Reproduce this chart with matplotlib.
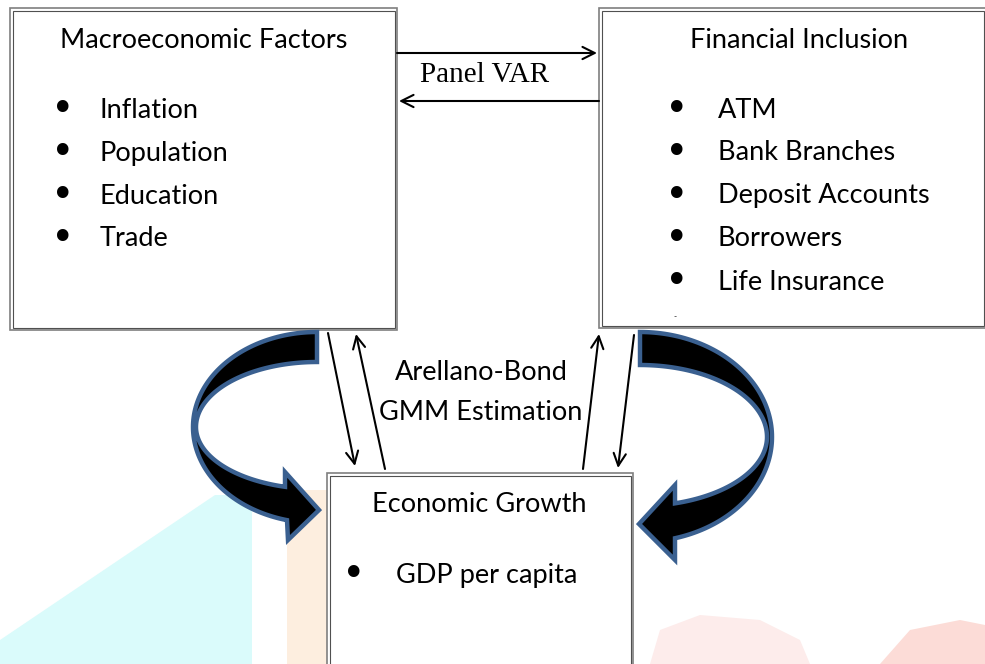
import numpy as np
import matplotlib
matplotlib.use('Agg')
import matplotlib.pyplot as plt
from matplotlib.patches import Rectangle, Polygon

# diagram texts
macroTitle = 'Macroeconomic Factors'
macroItems = ['Inflation', 'Population', 'Education', 'Trade']
finTitle = 'Financial Inclusion'
finItems = ['ATM', 'Bank Branches', 'Deposit Accounts', 'Borrowers', 'Life Insurance']
growthTitle = 'Economic Growth'
growthItems = ['GDP per capita']
varLabel = 'Panel VAR'
gmmLabel = ['Arellano-Bond', 'GMM Estimation']

W, H = 985, 664
sans = 'Lato'
fs = 19.5

fig = plt.figure(figsize=(W/100, H/100), dpi=100)
ax = fig.add_axes([0, 0, 1, 1])
ax.set_xlim(0, W)
ax.set_ylim(H, 0)
ax.axis('off')

# faint watermark in the background
ax.add_patch(Polygon([(0, 640), (215, 495), (252, 495), (252, H), (0, H)],
                     closed=True, fc='#dafbfb', ec='none', zorder=0))
ax.add_patch(Rectangle((287, 490), 40, H-490, fc='#fdeedf', ec='none', zorder=0))
ax.add_patch(Polygon([(650, 664), (660, 630), (700, 615), (760, 620), (800, 640), (810, 664)],
                     closed=True, fc='#fdeceb', ec='none', zorder=0))
ax.add_patch(Polygon([(880, 664), (910, 630), (960, 620), (985, 625), (985, 664)],
                     closed=True, fc='#fcdcd7', ec='none', zorder=0))

def box(x0, y0, x1, y1):
  ax.add_patch(Rectangle((x0, y0), x1-x0, y1-y0, fc='white', ec='#7f7f7f', lw=1.2, zorder=2))
  ax.add_patch(Rectangle((x0+2.5, y0+2.5), x1-x0-5, y1-y0-5, fc='none', ec='#505050', lw=0.8, zorder=3))

box(10, 8, 397, 330)
box(599, 8, 986, 328)
box(327, 473, 633, 680)

def block(title, items, tx, ty, bx, ix, y0, dy):
  ax.text(tx, ty, title, ha='center', va='center', fontsize=fs, family=sans, zorder=4)
  for i, it in enumerate(items):
    y = y0 + i*dy
    ax.text(bx, y, '\u2022', ha='center', va='center', fontsize=fs+9, family='DejaVu Sans', zorder=4)
    ax.text(ix, y, it, ha='left', va='center', fontsize=fs, family=sans, zorder=4)

block(macroTitle, macroItems, 204, 41, 63, 100, 110, 43)
block(finTitle, finItems, 799, 41, 677, 718, 110, 43)
block(growthTitle, growthItems, 479, 504, 354, 396, 575, 43)
ax.text(675, 317, '-', ha='center', va='center', fontsize=6, family=sans, zorder=4)

ax.text(485, 75, varLabel, ha='center', va='center', fontsize=21, family='Liberation Serif', zorder=4)
ax.text(481, 372, gmmLabel[0], ha='center', va='center', fontsize=fs, family=sans, zorder=4)
ax.text(481, 412, gmmLabel[1], ha='center', va='center', fontsize=fs, family=sans, zorder=4)

def arrow(x0, y0, x1, y1):
  ax.annotate('', xy=(x1, y1), xytext=(x0, y0),
              arrowprops=dict(arrowstyle='->', lw=1.5, color='black',
                              mutation_scale=22, shrinkA=0, shrinkB=0), zorder=5)

arrow(397, 53, 597, 53)
arrow(599, 101, 399, 101)
arrow(328, 333, 355, 466)
arrow(385, 469, 356, 334)
arrow(583, 469, 599, 334)
arrow(634, 335, 618, 468)

def arc(cx, cy, a, b, t0, t1, n=60):
  t = np.radians(np.linspace(t0, t1, n))
  return np.column_stack([cx + a*np.cos(t), cy + b*np.sin(t)])

edge = '#3a6090'

# left curved arrow
cx, cy = 317, 427
tb = np.degrees(np.arccos(-30/124))
tu = np.degrees(np.arccos(-32/121))
pts = np.vstack([
  arc(cx, cy, 124, 95, -90, -180),
  arc(cx, cy, 124, 96, 180, tb),
  [(288, 540), (319, 510), (285, 472)],
  arc(cx, cy, 121, 62, tu, 180),
  arc(cx, cy, 121, 65, -180, -90),
])
ax.add_patch(Polygon(pts, closed=True, fc='black', ec=edge, lw=3.2, joinstyle='miter', zorder=4))

# right curved arrow
cx, cy = 640, 437
tb = np.degrees(np.arccos(35/132))
tu = np.degrees(np.arccos(35/127))
pts = np.vstack([
  arc(cx, cy, 132, 105, -90, 0),
  arc(cx, cy, 132, 105, 0, tb),
  [(675, 560), (639, 524), (675, 485)],
  arc(cx, cy, 127, 69, tu, 0),
  arc(cx, cy, 127, 72, 0, -90),
])
ax.add_patch(Polygon(pts, closed=True, fc='black', ec=edge, lw=3.2, joinstyle='miter', zorder=4))

fig.savefig('out.png', dpi=100)
